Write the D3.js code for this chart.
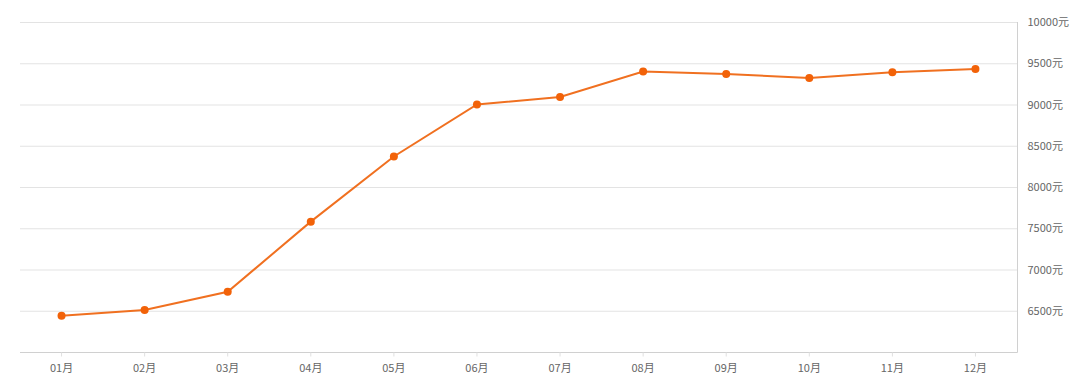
<!DOCTYPE html>
<html lang="zh">
  <head>
    <meta charset="UTF-8" />
    <title>月度价格</title>
    <style>
      body { margin: 0; background: #fff; }
      svg text { font-family: "Noto Sans CJK SC", "Noto Sans", sans-serif; font-size: 11px; }
      .grid line { stroke: #e3e3e3; }
      .line { fill: none; stroke: #f07020; stroke-width: 2; }
      .dot { fill: #f26208; }
    </style>
  </head>
  <body>
    <svg id="container" width="1080" height="390"></svg>
  </body>
  <script src="https://cdn.jsdelivr.net/npm/d3@7"></script>
  <script>
    // months and price per month
    let months = ["01月", "02月", "03月", "04月", "05月", "06月", "07月", "08月", "09月", "10月", "11月", "12月"];
    let prices = [6440, 6510, 6730, 7580, 8370, 9000, 9090, 9400, 9370, 9320, 9390, 9430];
    let yTicks = [6500, 7000, 7500, 8000, 8500, 9000, 9500, 10000];

    let svg = d3.select("#container");
    let plotLeft = 20, plotRight = 1017, plotTop = 22, plotBottom = 352;

    let xScale = d3.scaleBand().domain(months).range([plotLeft, plotRight]);
    let yScale = d3.scaleLinear().domain([6000, 10000]).range([plotBottom, plotTop]);

    // horizontal grid lines
    svg.append("g").attr("class", "grid")
      .selectAll("line").data(yTicks).join("line")
      .attr("x1", plotLeft).attr("x2", plotRight)
      .attr("y1", d => yScale(d) + 0.5).attr("y2", d => yScale(d) + 0.5);

    // right axis with labels
    let yAxis = svg.append("g")
      .attr("transform", "translate(" + (plotRight + 0.5) + ",0)")
      .attr("color", "#666")
      .call(d3.axisRight(yScale).tickValues(yTicks).tickSize(0).tickPadding(10).tickFormat(d => d + "元"));
    yAxis.select(".domain").attr("stroke", "#d0d0d0").attr("d", "M0," + plotTop + "V" + (plotBottom + 0.5));

    // bottom axis
    let xAxis = svg.append("g")
      .attr("transform", "translate(0," + (plotBottom + 0.5) + ")")
      .attr("color", "#666")
      .call(d3.axisBottom(xScale).tickSize(4).tickPadding(8));
    xAxis.select(".domain").attr("stroke", "#d0d0d0").attr("d", "M" + plotLeft + ",0H" + (plotRight + 0.5));
    xAxis.selectAll(".tick line").attr("stroke", "#e0e0e0");

    let cx = (d, i) => xScale(months[i]) + xScale.bandwidth() / 2;

    // price line
    let valueLine = d3.line().x(cx).y(d => yScale(d));
    svg.append("path").datum(prices).attr("class", "line").attr("d", valueLine);

    svg.selectAll(".dot").data(prices).join("circle")
      .attr("class", "dot")
      .attr("cx", cx).attr("cy", d => yScale(d)).attr("r", 4);
  </script>
</html>
